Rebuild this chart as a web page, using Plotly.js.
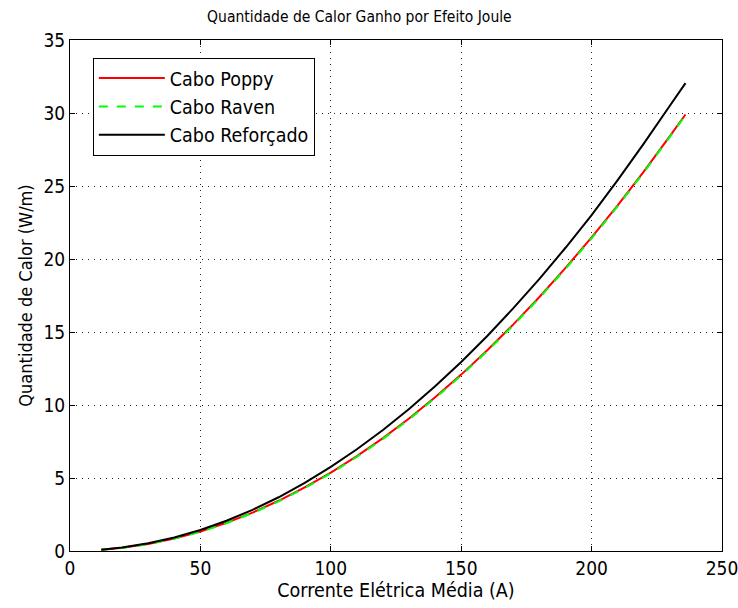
<!DOCTYPE html>
<html>
<head>
<meta charset="utf-8">
<script src="https://cdn.plot.ly/plotly-3.0.1.min.js"></script>
<style>html,body{margin:0;padding:0;background:#fff;}#chart{width:738px;height:608px;}</style>
</head>
<body>
<div id="chart"></div>
<script>
const current = [12, 20, 30, 40, 50, 60, 70, 80, 90, 100, 110, 120, 130, 140, 150, 160, 170, 180, 190, 200, 210, 220, 230, 236];
const heatPoppy = [0.08, 0.22, 0.48, 0.86, 1.34, 1.93, 2.63, 3.44, 4.35, 5.37, 6.50, 7.73, 9.08, 10.53, 12.08, 13.75, 15.52, 17.40, 19.39, 21.48, 23.68, 25.99, 28.41, 29.9];
const heatRaven = [0.08, 0.21, 0.47, 0.85, 1.32, 1.90, 2.60, 3.40, 4.31, 5.32, 6.45, 7.68, 9.02, 10.47, 12.02, 13.69, 15.46, 17.34, 19.33, 21.42, 23.62, 25.93, 28.36, 29.85];
const heatReforcado = [0.08, 0.24, 0.53, 0.93, 1.44, 2.07, 2.82, 3.68, 4.66, 5.76, 6.97, 8.29, 9.73, 11.28, 12.95, 14.73, 16.63, 18.64, 20.77, 23.0, 25.4, 27.9, 30.5, 32.05];
const seriesNames = ['Cabo Poppy', 'Cabo Raven', 'Cabo Reforçado'];
const xTicks = [0, 50, 100, 150, 200, 250];
const yTicks = [0, 5, 10, 15, 20, 25, 30, 35];

const fam = '"Liberation Sans Narrow", "DejaVu Sans Condensed", Arial, sans-serif';
const tickFont = {family: fam, size: 19, color: '#000'};
const traces = [
  {x: current, y: heatPoppy, name: seriesNames[0], mode: 'lines', line: {color: '#ff0000', width: 2}},
  {x: current, y: heatRaven, name: seriesNames[1], mode: 'lines', line: {color: '#00ff00', width: 2, dash: 'dash'}},
  {x: current, y: heatReforcado, name: seriesNames[2], mode: 'lines', line: {color: '#000000', width: 2}}
];
const axisCommon = {
  showline: true, linecolor: '#000', linewidth: 1, mirror: 'ticks',
  ticks: 'inside', ticklen: 5, tickcolor: '#000',
  showgrid: true, gridcolor: '#222', griddash: '1px,5px', gridwidth: 1,
  zeroline: false, tickfont: tickFont, ticklabeloverflow: 'allow'
};
const layout = {
  width: 738, height: 608,
  margin: {l: 70, r: 16, t: 40, b: 57},
  paper_bgcolor: '#fff', plot_bgcolor: '#fff',
  font: {family: fam, size: 18, color: '#000'},
  title: {text: 'Quantidade de Calor Ganho por Efeito Joule', font: {family: fam, size: 15.5, color: '#000'}, x: 0.487, xanchor: 'center', y: 0.972, yanchor: 'middle'},
  xaxis: Object.assign({}, axisCommon, {range: [0, 250], tickvals: xTicks, title: {text: 'Corrente Elétrica Média (A)', font: {family: fam, size: 19.5, color: '#000'}, standoff: 3}}),
  yaxis: Object.assign({}, axisCommon, {range: [0, 35], tickvals: yTicks, title: {text: 'Quantidade de Calor (W/m)', font: {family: fam, size: 18, color: '#000'}, standoff: 6}}),
  legend: {x: 0.035, y: 0.965, xanchor: 'left', yanchor: 'top', bgcolor: '#fff', bordercolor: '#000', borderwidth: 1, font: {family: fam, size: 19.5, color: '#000'}, itemwidth: 66, tracegroupgap: 0},
  showlegend: true
};
Plotly.newPlot('chart', traces, layout, {staticPlot: true});
</script>
</body>
</html>
